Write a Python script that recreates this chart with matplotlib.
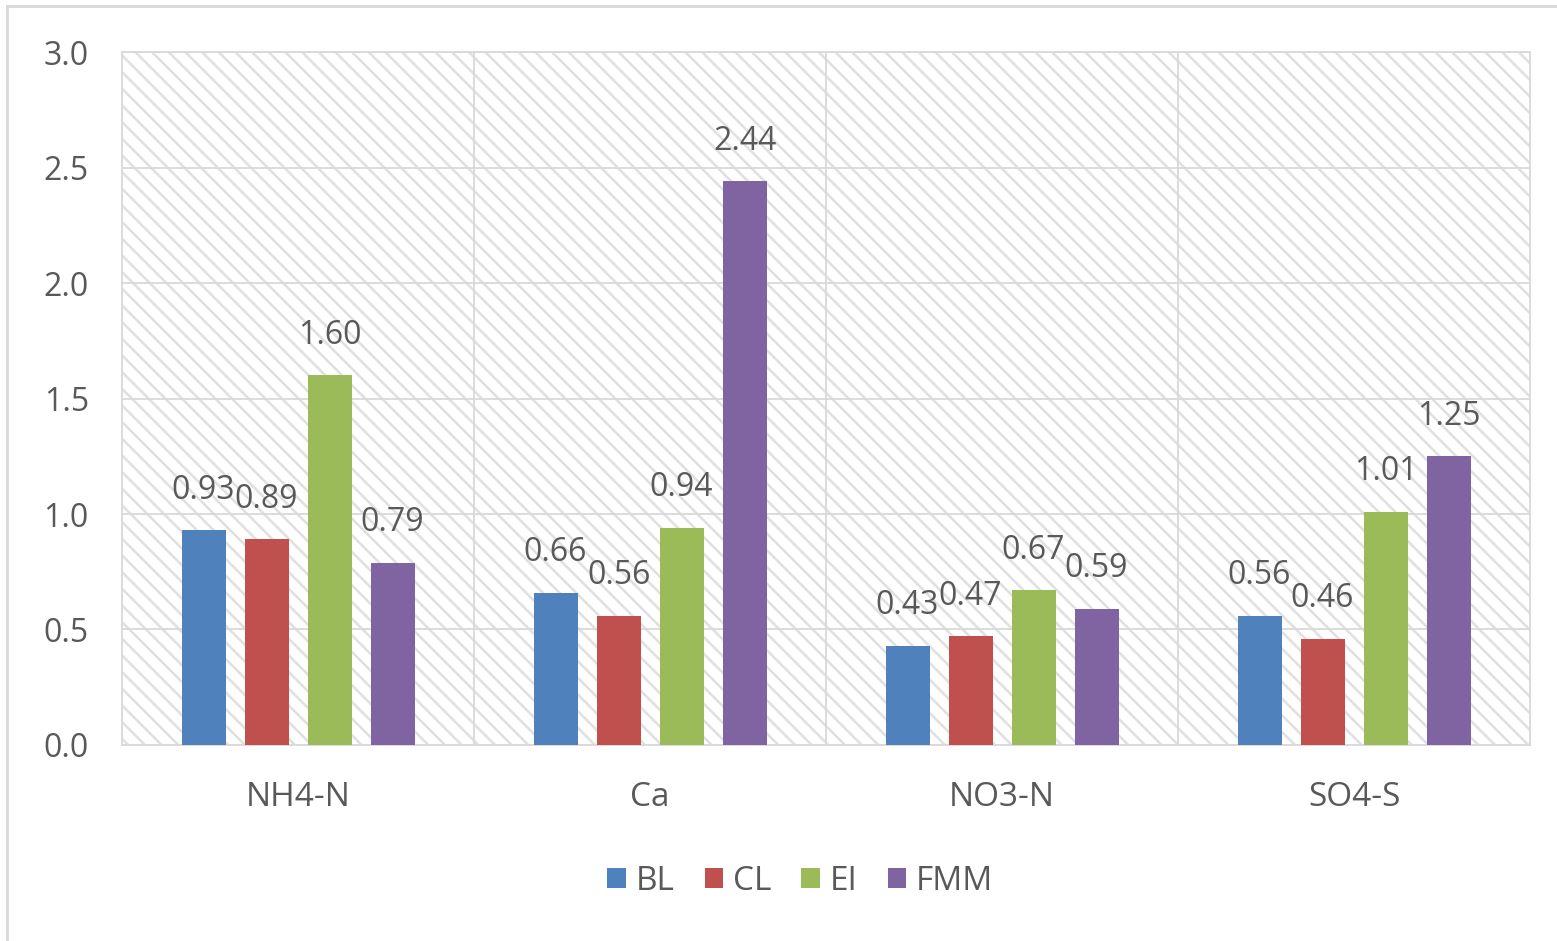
import matplotlib
matplotlib.use("Agg")
import matplotlib.pyplot as plt
from matplotlib.patches import Rectangle, Patch
from matplotlib.lines import Line2D
import numpy as np

categories = ["NH4-N", "Ca", "NO3-N", "SO4-S"]
series_names = ["BL", "CL", "EI", "FMM"]
bl = [0.93, 0.66, 0.43, 0.56]
cl = [0.89, 0.56, 0.47, 0.46]
ei = [1.60, 0.94, 0.67, 1.01]
fmm = [0.79, 2.44, 0.59, 1.25]
yticks = [0.0, 0.5, 1.0, 1.5, 2.0, 2.5, 3.0]

colors = ["#4F81BD", "#C0504D", "#9BBB59", "#8064A2"]
text_color = "#595959"
grid_color = "#D9D9D9"

plt.rcParams["font.family"] = ["Open Sans", "DejaVu Sans"]
plt.rcParams["hatch.linewidth"] = 1.8
plt.rcParams["hatch.color"] = "#E0E0E0"

W, H = 1557, 941
fig = plt.figure(figsize=(W / 100, H / 100), dpi=100)
ax = fig.add_axes([0.0784, 0.2083, 0.9043, 0.7364])

# hatched plot-area background
ax.add_patch(Rectangle((0, 0), 1, 1, transform=ax.transAxes, facecolor="white",
                       edgecolor="#E0E0E0", hatch="\\\\", linewidth=0, zorder=0))

x = np.arange(len(categories))
width = 0.125
step = 0.179
for i, (vals, name) in enumerate(zip([bl, cl, ei, fmm], series_names)):
    pos = x + (i - 1.5) * step
    bars = ax.bar(pos, vals, width, color=colors[i], zorder=3, label=name)
    for b, v in zip(bars, vals):
        ax.annotate(f"{v:.2f}", (b.get_x() + b.get_width() / 2, v),
                    xytext=(0, 17), textcoords="offset points",
                    ha="center", va="bottom", fontsize=23, color=text_color)

ax.set_xlim(-0.5, len(categories) - 0.5)
ax.set_ylim(0, 3.0)
ax.set_yticks(yticks)
ax.set_yticklabels([f"{t:.1f}" for t in yticks])
ax.set_xticks(x)
ax.set_xticklabels(categories)
ax.tick_params(axis="both", length=0, labelsize=23, labelcolor=text_color)
ax.tick_params(axis="x", labelsize=24, pad=26)
ax.tick_params(axis="y", pad=24)

for y in yticks:
    ax.axhline(y, color=grid_color, linewidth=1.3, zorder=1)
for xb in np.arange(0.5, len(categories) - 0.5, 1.0):
    ax.axvline(xb, color=grid_color, linewidth=1.3, zorder=1)
for s in ax.spines.values():
    s.set_color(grid_color)
    s.set_linewidth(1.3)
ax.set_facecolor("white")

handles = [Patch(facecolor=c, label=n) for c, n in zip(colors, series_names)]
fig.legend(handles=handles, loc="center", bbox_to_anchor=(0.514, 0.063), ncol=4,
           frameon=False, fontsize=24, handlelength=0.55, handleheight=0.55,
           handletextpad=0.3, columnspacing=0.9, labelcolor=text_color)

# chart frame edges (top and left)
fig.lines.append(Line2D([7 / W, 1], [1 - 6 / H, 1 - 6 / H], transform=fig.transFigure,
                        color="#D9D9D9", linewidth=2))
fig.lines.append(Line2D([7 / W, 7 / W], [0, 1 - 6 / H], transform=fig.transFigure,
                        color="#D9D9D9", linewidth=2))

fig.savefig("out.png", dpi=100, facecolor="white")
